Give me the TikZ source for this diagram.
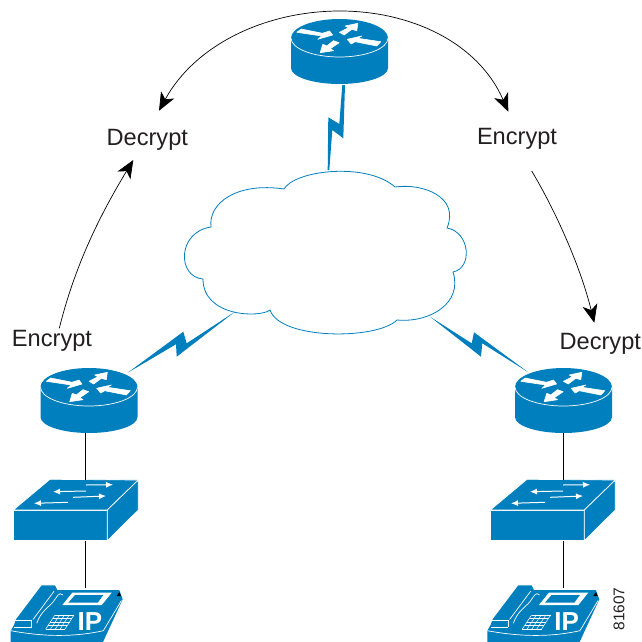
\documentclass[tikz,border=0pt]{standalone}
\usepackage{fontspec}
\setmainfont{Liberation Sans}
\usepackage{xcolor}
\usetikzlibrary{arrows.meta}
\definecolor{ciscoblue}{HTML}{007FBE}
\definecolor{labelgray}{HTML}{231F20}
\tikzset{
  label text/.style={anchor=base, inner sep=0, text=labelgray, font=\fontsize{23.6}{26}\selectfont},
  flow/.style={black, line width=.7pt, -{Stealth[length=18pt,width=15pt,inset=5pt]}},
  wire/.style={black, line width=.7pt},
  bolt/.style={fill=ciscoblue},
  edge white/.style={draw=white, line width=.7pt},
  arrow white/.style={fill=white, draw=white, line width=.6pt, line join=round},
  pics/router/.style={code={
    \fill[ciscoblue] (0,0) ellipse [x radius=48.5pt, y radius=19pt];
    \fill[ciscoblue] (-48.5,0) -- (-48.5,30) arc [start angle=180, end angle=360, x radius=48.5pt, y radius=16pt] -- (48.5,0) -- cycle;
    \draw[edge white] (-48.5,0) arc [start angle=180, end angle=360, x radius=48.5pt, y radius=19pt];
    \filldraw[arrow white] (-42.7,-5.7) -- (-38.3,-9) -- (-17,-4.7) -- (-10,-7) -- (-7,-3) -- (-21.7,1.3) -- (-17.7,-2) -- cycle;
    \filldraw[arrow white] (0,-5.7) -- (4.7,-3) -- (12.3,-8.7) -- (17.3,-7.3) -- (18.3,-14.7) -- (5.7,-12) -- (9,-10.3) -- cycle;
    \filldraw[arrow white] (41.3,3.7) -- (37.3,8) -- (15.7,3.7) -- (11.7,6) -- (7.7,1.3) -- (22.3,-2) -- (18.3,.3) -- cycle;
    \filldraw[arrow white] (-.3,4.7) -- (-6,2.7) -- (-12.7,8) -- (-16.7,6.3) -- (-19.3,14.7) -- (-6,12.7) -- (-9.3,10.7) -- cycle;
    \coordinate (-bot) at (0,46);
  }},
  pics/switchbox/.style={code={
    \filldraw[fill=ciscoblue, edge white] (-71.7,0) -- (22.3,0) -- (22.3,30.7) -- (-71.7,30.7) -- cycle;
    \filldraw[fill=ciscoblue, edge white] (-71.7,0) -- (-35,-30.7) -- (53.3,-30) -- (22.3,0) -- cycle;
    \filldraw[fill=ciscoblue, edge white] (22.3,0) -- (53.3,-30) -- (53.3,0) -- (22.3,30.7) -- cycle;
    \foreach \xa/\ya/\xb/\yb in {1/-25/28/-25.3, 1/-19/-32/-18.3, -12/-12.7/21/-14, -17/-7.7/-51/-6.7}
      \draw[white, line width=1pt, -{Latex[length=7pt,width=6pt]}] (\xa,\ya) -- (\xb,\yb);
    \coordinate (-top) at (0,-30);
    \coordinate (-bot) at (0,30.7);
  }},
  pics/ipphone/.style={code={
    \fill[ciscoblue] (-74.3,20.7) -- (-71,15) -- (-69,9.3) -- (-43.3,-24.7) -- (-30,-24.7) -- (-27.7,-20) -- (34.3,-20) -- (37.7,-10.7) -- (18,32) -- (-74.3,32) -- cycle;
    \draw[edge white] (-70,10) -- (-53.3,10) -- (-53.3,16.7);
    \draw[edge white] (-71,17.7) -- (-53.3,17.7);
    \draw[edge white] (-52,9.5) -- (-31,-18.7);
    \draw[edge white] (-48.3,13.3) .. controls (-44,1) and (-36,-3) .. (-31.7,-8.3) .. controls (-28,-13) and (-26,-19) .. (-22,-15);
    \fill[white] (-22.7,-5) -- (-12.7,-17.3) -- (26.7,-17.3) -- (16.7,-5) -- cycle;
    \fill[ciscoblue] (-16.7,-7.3) -- (-10,-15) -- (18.3,-15) -- (12.7,-7.3) -- cycle;
    \foreach \t in {0,.25,.5,.75,1} {
      \draw[white, line width=.5pt] (-39.3+19.3*\t,19) -- (-30+19*\t,5);
      \draw[white, line width=.5pt] (-39.3+9.3*\t,19-14*\t) -- (-20+9*\t,19-14*\t);
    }
    \node[anchor=base, inner sep=0, white, font=\fontsize{26}{28}\selectfont\bfseries] (-ip) at (5,20.7) {IP};
    \draw[edge white] (-74.3,20.7) .. controls (-40,27) and (-10,27) .. (18.3,20.7);
    \draw[edge white] (18.3,20.7) -- (36.5,-9.5);
    \fill[black] (31.7,-14) -- (34.3,-18) -- (36,-14) -- cycle;
    \coordinate (-top) at (0,-22);
  }}
}
\begin{document}
\begin{tikzpicture}[x=1pt, y=-1pt]
\useasboundingbox (0,0) rectangle (642,642);
\draw[ciscoblue, line width=.8pt, fill=white] (211,227) .. controls (208,203) and (237,182) .. (284,189) .. controls (295,170) and (367,162) .. (395,187) .. controls (423,183) and (460,197) .. (447,228) .. controls (470,232) and (473,268) .. (453,272) .. controls (463,303) and (430,323) .. (397,320) .. controls (377,340) and (280,340) .. (270,310) .. controls (260,318) and (203,317) .. (203,279) .. controls (177,277) and (177,232) .. (211,227) -- cycle;
\fill[bolt] (342.3,85) -- (345,85) -- (343.3,138.3) -- (332.3,130) -- (329.3,170) -- (327.7,170) -- (328.3,117.3) -- (339.3,124) -- cycle;
\fill[bolt] (235,311.7) -- (186.7,343.3) -- (183.3,331.7) -- (127.7,372.7) -- (176,344.3) -- (176.7,356.7) -- cycle;
\fill[bolt] (430,316.7) -- (471.7,343.3) -- (474,332.3) -- (528.3,372.3) -- (482.3,343.3) -- (481,356.7) -- cycle;
\pic (rtrT) at (339.5,38) {router};
\pic (rtrL) at (89,387) {router};
\pic (rtrR) at (563.5,387) {router};
\pic (swL) at (85,510) {switchbox};
\pic (swR) at (562,510) {switchbox};
\pic (telL) at (85,610) {ipphone};
\pic (telR) at (561.6,610) {ipphone};
\draw[wire] (swL-top |- rtrL-bot) -- (swL-top);
\draw[wire] (swL-bot) -- (telL-top);
\draw[wire] (rtrR-bot) -- (rtrR-bot |- swR-top);
\draw[wire] (rtrR-bot |- swR-bot) -- (rtrR-bot |- telR-top);
\node[label text] (decT) at (147.3,145) {Decrypt};
\node[label text] (encT) at (517,144) {Encrypt};
\node[label text] (encL) at (52,346.7) {Encrypt};
\node[label text] (decR) at (600.3,349) {Decrypt};
\coordinate (encLout) at (59.3,328.3);
\coordinate (decTin) at (133.3,160);
\coordinate (decTarc) at (159,110.7);
\coordinate (encTarc) at (508.3,111.7);
\coordinate (encTout) at (531.7,171);
\coordinate (decRin) at (594.3,322.7);
\coordinate (apex) at (340,11);
\draw[flow] (encLout) .. controls (75,265) and (100,215) .. (decTin);
\draw[flow] (encTout) .. controls (555,210) and (580,265) .. (decRin);
\draw[flow] (apex) .. controls (265,11) and (195,45) .. (decTarc);
\draw[flow] (apex) .. controls (410,11) and (478,42) .. (encTarc);
\node[inner sep=0, rotate=90, text=labelgray, font=\fontsize{15.5}{17}\selectfont] (figno) at (619,609) {81607};
\end{tikzpicture}
\end{document}
